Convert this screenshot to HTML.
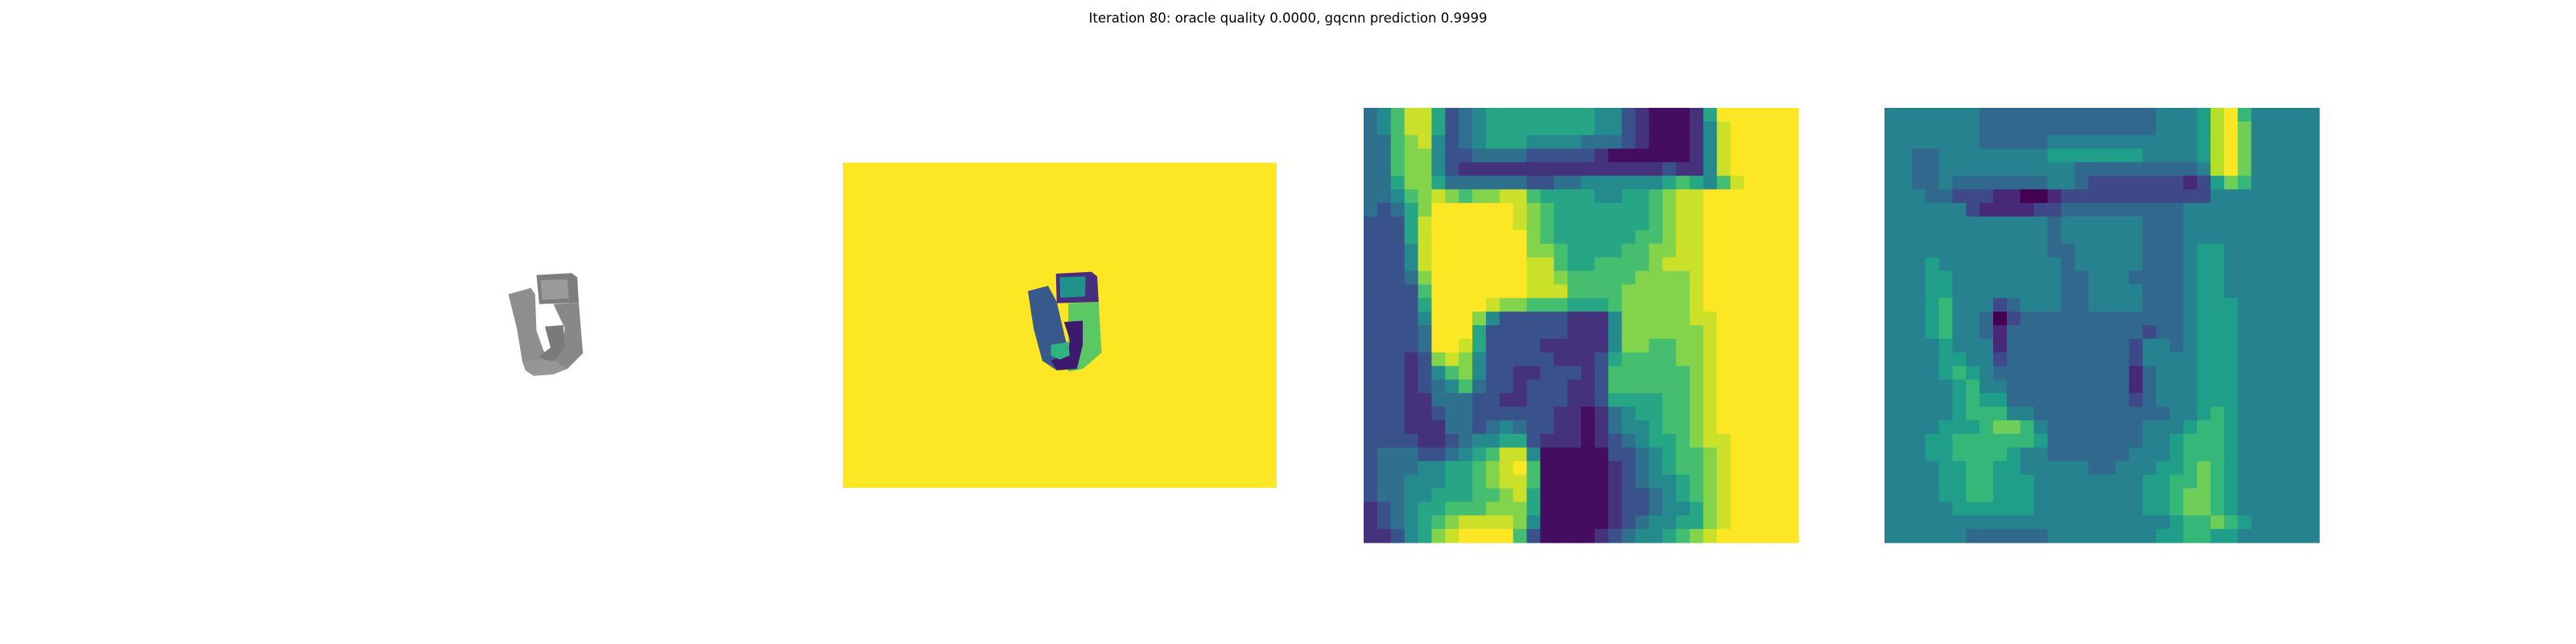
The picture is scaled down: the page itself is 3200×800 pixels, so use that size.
<!DOCTYPE html>
<html><head><meta charset="utf-8">
<style>
html,body{margin:0;padding:0;background:#fff;}
#root{position:relative;width:3200px;height:800px;overflow:hidden;background:#fff;}
#title{position:absolute;left:0;width:3200px;top:13px;text-align:center;font-family:"DejaVu Sans","Liberation Sans",sans-serif;font-size:16.5px;color:#000;}
svg{position:absolute;left:0;top:0;}
</style></head>
<body>
<div id="root">
<div id="title">Iteration 80: oracle quality 0.0000, gqcnn prediction 0.9999</div>
<svg id="svg" width="3200" height="800">
  <g id="panel1" transform="translate(600,320) scale(0.3497)">
    <polygon points="90,130 170,108 185,130 190,260 215,330 240,360 210,395 160,400 140,370 120,250" fill="#8e8e8e"/>
    <polygon points="190,62 315,55 335,70 340,160 200,165" fill="#7d7d7d"/>
    <polygon points="205,80 300,78 305,145 210,150" fill="#9a9a9a"/>
    <polygon points="250,165 340,160 355,340 300,395 250,410 230,380 280,330 290,250" fill="#888"/>
    <polygon points="220,245 285,240 290,320 260,360 225,380 200,350 240,320" fill="#7a7a7a"/>
    <polygon points="140,370 210,360 260,370 300,395 250,415 180,420 150,400" fill="#969696"/>
  </g>
  <g id="panel2">
    <rect x="1047" y="202" width="539" height="404" fill="#fde725"/>
    <g transform="translate(1040,195) scale(0.3589,0.3333)">
      <polygon points="800,545 905,540 915,730 850,790 800,800" fill="#5cc863"/>
      <polygon points="660,500 730,480 760,540 790,680 820,760 760,795 710,760 680,640" fill="#38598c"/>
      <polygon points="757,435 880,428 900,445 905,540 760,545" fill="#472d7b"/>
      <polygon points="770,448 860,445 858,520 772,525" fill="#21918c"/>
      <polygon points="785,615 850,610 850,700 830,790 760,795 740,760 800,730 805,680" fill="#3e1a6e"/>
      <polygon points="740,700 800,690 805,740 770,755 740,740" fill="#2fb47c"/>
    </g>
  </g>
  <g id="panel3"></g>
  <g id="panel4"></g>
</svg>
</div>
<script>
// panel 3 values (0..9 on viridis scale), 32 rows, rows padded to 32 cols with 9
const depthRows = [
"34688523455555555442100015999999",
"3468852345555555544210001489",
"3367842345554444333210001489",
"3367742233332222210000001489",
"3367742111111111111111211489",
"3357753333332233444444565468",
"334678767788655554455678899",
"323579999998765555555678899",
"222589999998765555555678899",
"222589999999765555556678899",
"222489999999776555566778899",
"222489999999886556666788899",
"222379999999887666667777899",
"222269999999888666677777899",
"222259999877666555677777899",
"222249997422222111477777889",
"222239995222222111477777789",
"222239985222211111477667789",
"222127874222221112566667789",
"222124674221122212666666789",
"222123463221222112666666789",
"222113332211222112555566789",
"222112332222221101345566789",
"222111332343221101344566789",
"222211234455211101234556788",
"233322345688400000223456678",
"233344556789600000123456678",
"233444556788600000123445678",
"233445556678500000122345678",
"123455666777500000122344578",
"123456788887400000123445578",
"112457899996200001234456789"
];
const depthPad = 9;
// panel 4 values, rows padded to 32 cols with 4
const gradRows = [
"444444433333333333334445896",
"444444433333333333334445897",
"444444433333444444444445897",
"443344444444555555544445897",
"443344444444443333333334897",
"443343333333443222222212576",
"444332221100122222222222444",
"444444211112233333333344444",
"444444444444344444433344444",
"444444444444344444433344444",
"444444444444334444433345544",
"444544444444434444433345544",
"444554444444433444333345544",
"444554444444433444433345544",
"444564442344433444433345554",
"444564430233333333333345554",
"444564431333333333323345554",
"444454441333333333244345554",
"444455442333333333244445554",
"444456543333333333134445554",
"444445644333333333134445554",
"444445655333333333234445554",
"444445666443333333333445654",
"444455567764333333344456654",
"444556666665333333344566654",
"444556666544333333444566654",
"444455665544444334445567654",
"444455665554444444455667654",
"444455665554444444455677654",
"444445555554444444455677654",
"444444444444444444444566765",
"444444333333444444445566554"
];
const gradPad = 4;

const VIR = ["#440154","#482878","#3e4989","#31688e","#26828e","#1f9e89","#35b779","#6ece58","#b5de2b","#fde725"];
function hex(h){return [parseInt(h.substr(1,2),16),parseInt(h.substr(3,2),16),parseInt(h.substr(5,2),16)];}
function viridis(v){
  v=Math.max(0,Math.min(9,v));
  const i=Math.min(8,Math.floor(v)), f=v-i;
  const a=hex(VIR[i]), b=hex(VIR[i+1]);
  return "rgb("+a.map((c,k)=>Math.round(c+(b[k]-c)*f)).join(",")+")";
}
function parseRows(rows,pad){
  return rows.map(r=>{const a=r.split("").map(Number);while(a.length<32)a.push(pad);return a.slice(0,32);});
}
function drawHeatmap(gid,rows,pad,x0,y0,size,shift){
  const g=document.getElementById(gid);
  const grid=parseRows(rows,pad);
  const n=grid.length, cell=size/32;
  const xs=c=>x0+c*cell, ys=r=>y0+r*(size/n);
  grid.forEach((row,r)=>row.forEach((v,c)=>{
    const el=document.createElementNS("http://www.w3.org/2000/svg","rect");
    
    
    el.setAttribute("x",xs(c).toFixed(2));
    el.setAttribute("y",ys(r).toFixed(2));
    el.setAttribute("width",(cell+0.6).toFixed(2));
    el.setAttribute("height",(size/n+0.6).toFixed(2));
    el.setAttribute("fill",viridis(v+shift));
    g.appendChild(el);
  }));
}
drawHeatmap("panel3",depthRows,depthPad,1694,134,540,0.3);
drawHeatmap("panel4",gradRows,gradPad,2341,134,540,0);
</script>
</body></html>
